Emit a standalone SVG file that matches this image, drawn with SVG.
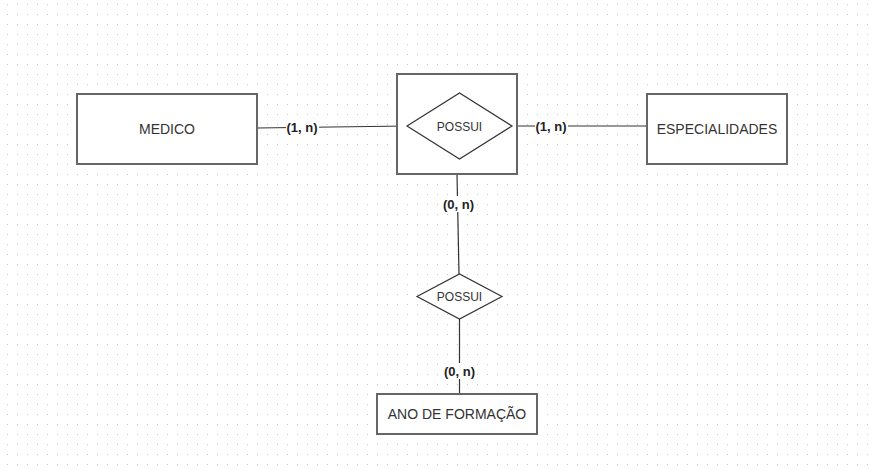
<svg xmlns="http://www.w3.org/2000/svg" width="869" height="471" viewBox="0 0 869 471">
<style>
.ent{fill:#fff;stroke:#666;stroke-width:2}
.rel{fill:#fff;stroke:#333;stroke-width:1.2}
.t{font-family:"Liberation Sans",Arial,sans-serif;fill:#333;text-anchor:middle;dominant-baseline:central}
.lbl{font-family:"Liberation Sans",Arial,sans-serif;font-weight:bold;font-size:13px;fill:#222;text-anchor:middle;dominant-baseline:central}
.conn{stroke:#333;stroke-width:1.2;fill:none}
.lbg{fill:#fff}
</style>
<defs>
<pattern id="dots" x="0" y="0" width="10" height="10" patternUnits="userSpaceOnUse">
<rect x="7" y="4" width="1" height="1" fill="#c8c8c8"/>
</pattern>
</defs>
<rect width="869" height="471" fill="#fff"/>
<rect width="869" height="471" fill="url(#dots)"/>
<g id="connectors">
<path class="conn" d="M257,128 L407,126"/>
<path class="conn" d="M512,126 L647,126"/>
<path class="conn" d="M457,174 L459,274"/>
<path class="conn" d="M459.5,319 L459.5,394"/>
<rect class="lbg" x="286" y="119" width="33" height="16"/>
<text class="lbl" x="302" y="127">(1, n)</text>
<rect class="lbg" x="535" y="118" width="33" height="16"/>
<text class="lbl" x="551" y="126">(1, n)</text>
<rect class="lbg" x="442" y="196" width="33" height="16"/>
<text class="lbl" x="458.5" y="204">(0, n)</text>
<rect class="lbg" x="443" y="363" width="33" height="16"/>
<text class="lbl" x="459.5" y="371">(0, n)</text>
</g>
<g id="medico">
<rect class="ent" x="77" y="94" width="180" height="70"/>
<text class="t" x="167" y="129" font-size="14">MEDICO</text>
</g>
<g id="possui1">
<rect class="ent" x="397" y="74" width="120" height="100"/>
<polygon class="rel" points="407,126 459.5,93 512,126 459.5,159"/>
<text class="t" x="459.5" y="126.5" font-size="12">POSSUI</text>
</g>
<g id="especialidades">
<rect class="ent" x="647" y="94" width="140" height="70"/>
<text class="t" x="717" y="129" font-size="14">ESPECIALIDADES</text>
</g>
<g id="possui2">
<polygon class="rel" points="417,296.5 459.5,274 502,296.5 459.5,319"/>
<text class="t" x="459.5" y="296.5" font-size="12">POSSUI</text>
</g>
<g id="ano">
<rect class="ent" x="377" y="394" width="160" height="40"/>
<text class="t" x="457" y="414" font-size="14">ANO DE FORMAÇÃO</text>
</g>
</svg>
